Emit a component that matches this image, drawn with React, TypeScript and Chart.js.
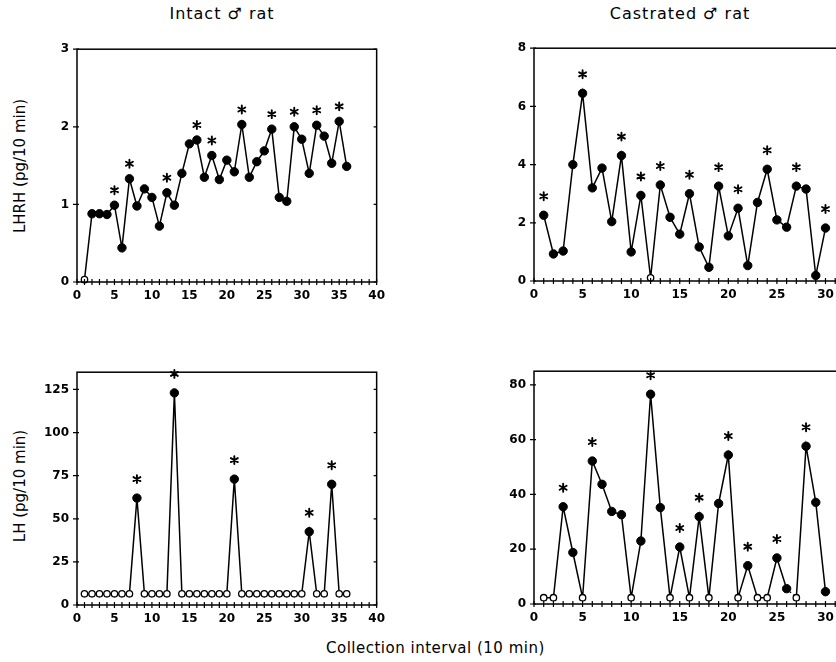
import React, { useEffect, useRef } from 'react';
import { Chart, registerables } from 'chart.js';
Chart.register(...registerables);

// ---------- data ----------
const intervals36 = [1,2,3,4,5,6,7,8,9,10,11,12,13,14,15,16,17,18,19,20,21,22,23,24,25,26,27,28,29,30,31,32,33,34,35,36];
const intervals30 = [1,2,3,4,5,6,7,8,9,10,11,12,13,14,15,16,17,18,19,20,21,22,23,24,25,26,27,28,29,30];

const intactLHRH = [0.03,0.88,0.88,0.87,0.99,0.44,1.33,0.98,1.20,1.09,0.72,1.15,0.99,1.40,1.78,1.83,1.35,1.63,1.32,1.57,1.42,2.03,1.35,1.55,1.69,1.97,1.09,1.04,2.00,1.84,1.40,2.02,1.88,1.53,2.07,1.49];
const intactLHRHOpen = [1];
const intactLHRHStars = [5,7,12,16,18,22,26,29,32,35];

const castratedLHRH = [2.26,0.93,1.03,4.0,6.45,3.2,3.88,2.04,4.31,1.0,2.94,0.11,3.3,2.19,1.61,3.0,1.17,0.47,3.26,1.55,2.5,0.53,2.7,3.84,2.1,1.85,3.26,3.16,0.19,1.82];
const castratedLHRHOpen = [12];
const castratedLHRHStars = [1,5,9,11,13,16,19,21,24,27,30];

const intactLH = [6.5,6.5,6.5,6.5,6.5,6.5,6.5,62,6.5,6.5,6.5,6.5,123,6.5,6.5,6.5,6.5,6.5,6.5,6.5,73,6.5,6.5,6.5,6.5,6.5,6.5,6.5,6.5,6.5,42.5,6.5,6.5,70,6.5,6.5];
const intactLHOpen = [1,2,3,4,5,6,7,9,10,11,12,14,15,16,17,18,19,20,22,23,24,25,26,27,28,29,30,32,33,35,36];
const intactLHStars = [8,13,21,31,34];

const castratedLH = [2.3,2.3,35.5,18.8,2.3,52.2,43.7,33.8,32.6,2.3,23,76.6,35.2,2.3,20.8,2.3,31.9,2.3,36.7,54.4,2.3,14,2.3,2.3,16.8,5.6,2.3,57.6,37.1,4.5];
const castratedLHOpen = [1,2,5,10,14,16,18,21,23,24,27];
const castratedLHStars = [3,6,12,15,17,20,22,25,28];
const castratedLHDottedFrom = [26];

const xMax = 40;
const intactLHRHTicks = [0,1,2,3];
const castratedLHRHTicks = [0,2,4,6,8];
const intactLHTicks = [0,25,50,75,100,125];
const castratedLHTicks = [0,20,40,60,80];

const titles = ['Intact \u2642 rat', 'Castrated \u2642 rat'];
const yTitles = ['LHRH (pg/10 min)', 'LH (pg/10 min)'];
const xTitle = 'Collection interval (10 min)';

// ---------- layout / style ----------
const FONT = '"DejaVu Sans", sans-serif';
const YW = 40, XH = 30, PT = 10, PR = 10;

type Panel = {
  x: number[]; y: number[]; open: number[]; stars: number[]; dotted?: number[];
  yMax: number; yTicks: number[]; area: { l: number; r: number; t: number; b: number };
  starOffset: number;
};

const panels: Panel[] = [
  { x: intervals36, y: intactLHRH, open: intactLHRHOpen, stars: intactLHRHStars, yMax: 3, yTicks: intactLHRHTicks, area: { l: 77, r: 382, t: 44, b: 282 }, starOffset: 15 },
  { x: intervals30, y: castratedLHRH, open: castratedLHRHOpen, stars: castratedLHRHStars, yMax: 8, yTicks: castratedLHRHTicks, area: { l: 534, r: 928, t: 43, b: 281 }, starOffset: 19 },
  { x: intervals36, y: intactLH, open: intactLHOpen, stars: intactLHStars, yMax: 135, yTicks: intactLHTicks, area: { l: 77, r: 382, t: 367, b: 605 }, starOffset: 19 },
  { x: intervals30, y: castratedLH, open: castratedLHOpen, stars: castratedLHStars, dotted: castratedLHDottedFrom, yMax: 85, yTicks: castratedLHTicks, area: { l: 534, r: 928, t: 366, b: 604 }, starOffset: 19 },
];

function canvasBox(p: Panel) {
  const left = p.area.l - YW;
  const top = p.area.t - PT;
  return { left, top, width: p.area.r + PR - left, height: p.area.b + XH - top };
}

function makeDecor(p: Panel) {
  return {
    id: 'decor',
    afterDatasetsDraw(chart: any) {
      const ctx = chart.ctx as CanvasRenderingContext2D;
      const a = chart.chartArea;
      const xs = chart.scales.x;
      const ys = chart.scales.y;
      ctx.save();
      ctx.strokeStyle = '#000';
      ctx.lineWidth = 1.5;
      ctx.strokeRect(a.left, a.top, a.right - a.left, a.bottom - a.top);
      ctx.lineWidth = 1.2;
      ctx.beginPath();
      for (let v = 0; v <= xMax; v++) {
        const px = xs.getPixelForValue(v);
        ctx.moveTo(px, a.bottom - 3);
        ctx.lineTo(px, a.bottom + 3);
      }
      for (const v of p.yTicks) {
        const py = ys.getPixelForValue(v);
        ctx.moveTo(a.left - 4, py);
        ctx.lineTo(a.left + 2, py);
        ctx.moveTo(a.right - 3, py);
        ctx.lineTo(a.right, py);
      }
      ctx.stroke();
      // asterisks
      const meta = chart.getDatasetMeta(0);
      ctx.lineWidth = 1.9;
      ctx.lineCap = 'round';
      for (const n of p.stars) {
        const el = meta.data[n - 1];
        if (!el) continue;
        const cx = el.x, cy = el.y - p.starOffset;
        const r = 4;
        ctx.beginPath();
        for (let k = 0; k < 3; k++) {
          const ang = Math.PI / 2 + (k * Math.PI) / 3;
          ctx.moveTo(cx + r * Math.cos(ang), cy + r * Math.sin(ang));
          ctx.lineTo(cx - r * Math.cos(ang), cy - r * Math.sin(ang));
        }
        ctx.stroke();
      }
      ctx.restore();
    },
  };
}

function makeConfig(p: Panel): any {
  const isOpen = (i: number) => p.open.includes(p.x[i]);
  return {
    type: 'line',
    data: {
      datasets: [
        {
          data: p.x.map((xv, i) => ({ x: xv, y: p.y[i] })),
          borderColor: '#000',
          borderWidth: 1.5,
          tension: 0,
          clip: false,
          pointRadius: (c: any) => (isOpen(c.dataIndex) ? 3.2 : 4.2),
          pointBorderWidth: (c: any) => (isOpen(c.dataIndex) ? 1.3 : 1),
          pointBackgroundColor: (c: any) => (isOpen(c.dataIndex) ? '#fff' : '#000'),
          pointBorderColor: '#000',
          segment: {
            borderDash: (c: any) => (p.dotted && p.dotted.includes(p.x[c.p0DataIndex]) ? [1.5, 3] : undefined),
          },
        },
      ],
    },
    options: {
      responsive: false,
      animation: false,
      devicePixelRatio: 1,
      layout: { padding: { top: PT, right: PR, left: 0, bottom: 0 } },
      plugins: { legend: { display: false }, tooltip: { enabled: false } },
      scales: {
        x: {
          type: 'linear',
          min: 0,
          max: xMax,
          grid: { display: false, drawTicks: false },
          border: { display: false },
          afterFit: (s: any) => { s.height = XH; },
          afterBuildTicks: (s: any) => { s.ticks = s.ticks.filter((t: any) => t.value % 5 === 0); },
          ticks: { stepSize: 5, autoSkip: false, maxRotation: 0, padding: 7, color: '#000', font: { family: FONT, size: 12, weight: 'bold' } },
        },
        y: {
          type: 'linear',
          min: 0,
          max: p.yMax,
          grid: { display: false, drawTicks: false },
          border: { display: false },
          afterFit: (s: any) => { s.width = YW; },
          afterBuildTicks: (s: any) => { s.ticks = p.yTicks.map((v) => ({ value: v })); },
          ticks: { autoSkip: false, padding: 8, color: '#000', font: { family: FONT, size: 12, weight: 'bold' } },
        },
      },
    },
    plugins: [makeDecor(p)],
  };
}

function PanelChart({ p }: { p: Panel }) {
  const ref = useRef<HTMLCanvasElement>(null);
  useEffect(() => {
    if (!ref.current) return;
    const chart = new Chart(ref.current, makeConfig(p));
    return () => chart.destroy();
  }, [p]);
  const b = canvasBox(p);
  return (
    <canvas
      ref={ref}
      width={b.width}
      height={b.height}
      style={{ position: 'absolute', left: b.left, top: b.top, width: b.width, height: b.height }}
    />
  );
}

const textStyle: React.CSSProperties = {
  position: 'absolute',
  fontFamily: FONT,
  fontSize: 15,
  color: '#000',
  whiteSpace: 'nowrap',
  letterSpacing: 0.5,
};

export default function App() {
  return (
    <div style={{ position: 'fixed', left: 0, top: 0, width: 836, height: 662, overflow: 'hidden', background: '#fff' }}>
      {panels.map((p, i) => (
        <PanelChart key={i} p={p} />
      ))}
      <div style={{ ...textStyle, fontSize: 16, letterSpacing: 1, left: 222, top: 13, transform: 'translate(-50%,-50%)' }}>{titles[0]}</div>
      <div style={{ ...textStyle, fontSize: 16, letterSpacing: 1, left: 680, top: 13, transform: 'translate(-50%,-50%)' }}>{titles[1]}</div>
      <div style={{ ...textStyle, letterSpacing: 0, left: 20, top: 166, transform: 'translate(-50%,-50%) rotate(-90deg)' }}>{yTitles[0]}</div>
      <div style={{ ...textStyle, letterSpacing: 0, left: 20, top: 486, transform: 'translate(-50%,-50%) rotate(-90deg)' }}>{yTitles[1]}</div>
      <div style={{ ...textStyle, left: 326, top: 648, transform: 'translate(0,-50%)' }}>{xTitle}</div>
    </div>
  );
}
